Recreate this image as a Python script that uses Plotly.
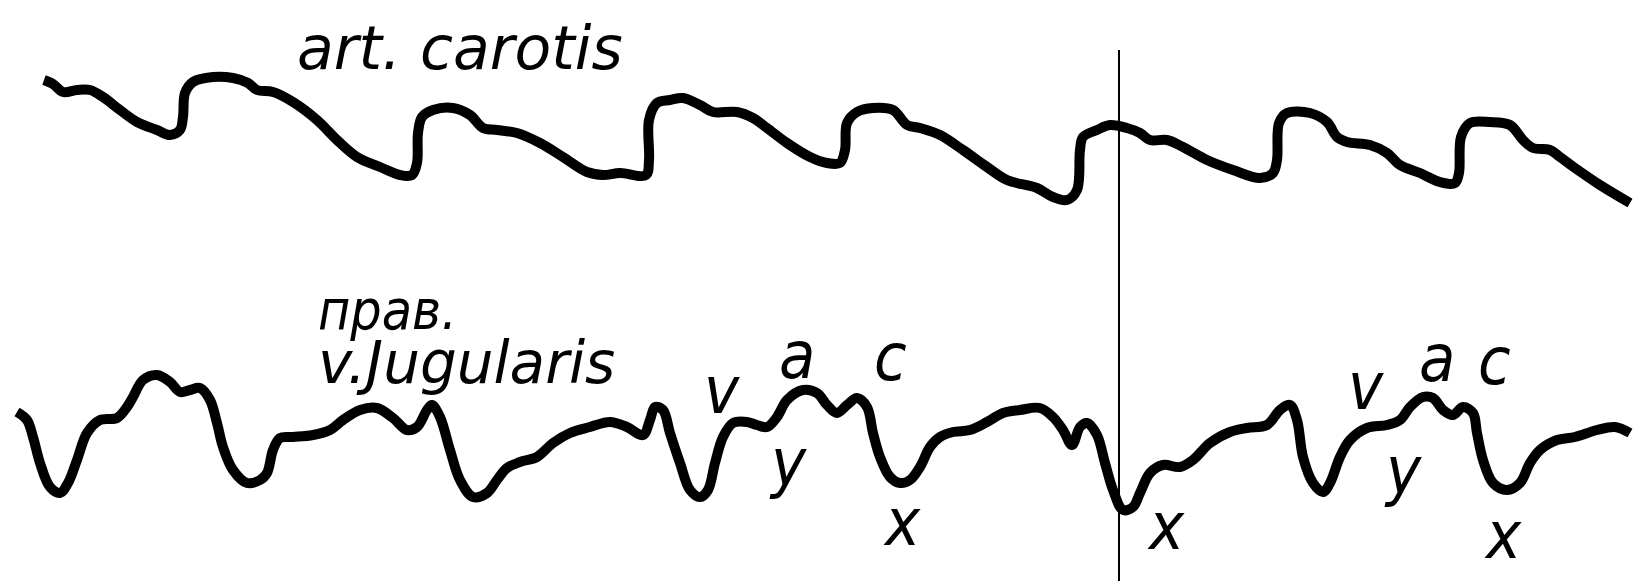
import plotly.graph_objects as go

# Carotid pulse tracing (time, pen deflection)
carotid_t = [44, 53, 63, 77, 90, 103, 120, 137, 157, 170, 180, 183, 185, 193, 213, 233, 248, 257, 273, 293,
             317, 337, 357, 380, 400, 412, 417, 418, 422, 433, 453, 470, 483, 497, 517,
             540, 563, 587, 603, 620, 646, 649, 649, 657, 670, 683, 700, 713, 737, 753, 767, 787, 810, 827,
             840, 845, 847, 857, 873, 893, 907, 920, 940, 963, 987, 1007, 1037,
             1053, 1067, 1077, 1080, 1083, 1097, 1110, 1127, 1140, 1150, 1167, 1183, 1207, 1233, 1260, 1273,
             1277, 1279, 1287, 1310, 1327, 1337, 1347, 1370, 1387, 1400, 1420, 1440, 1455, 1459, 1461, 1470,
             1490, 1510, 1523, 1533, 1550, 1560, 1575, 1600, 1630]
carotid_v = [80, 84, 92, 90, 90, 97, 110, 122, 130, 135, 130, 117, 93, 82, 77, 78, 83, 90, 92, 102,
             120, 140, 157, 167, 175, 175, 163, 133, 117, 110, 108, 115, 128, 130, 133,
             143, 157, 172, 175, 173, 175, 160, 120, 103, 100, 98, 105, 112, 112, 118, 128, 143, 157, 163,
             163, 150, 123, 112, 108, 110, 125, 128, 135, 150, 167, 180, 188,
             197, 200, 190, 150, 137, 130, 125, 128, 133, 140, 140, 147, 160, 170, 178, 173,
             160, 123, 113, 113, 122, 137, 142, 145, 153, 165, 173, 182, 183, 173, 137, 123,
             122, 125, 140, 148, 150, 157, 168, 185, 203]

# Right jugular venous tracing (time, pen deflection)
jugular_t = [17, 27, 33, 40, 50, 60, 68, 77, 87, 100, 117, 127, 133, 143, 157, 170, 180, 190, 200, 210,
             217, 223, 233, 247, 260, 267, 273, 280, 293, 313, 330, 343, 360, 377, 393, 407, 417, 427, 432,
             440, 450, 460, 473, 487, 497, 507, 520,
             537, 553, 570, 590, 610, 627, 643, 650, 655, 663, 670, 680, 690, 700, 708, 715, 723, 733, 747,
             757, 767, 777, 787, 803, 817, 827, 837, 847, 857, 867, 873, 880, 890, 900, 910, 920, 930, 940,
             953, 970, 987, 1003, 1020, 1040,
             1053, 1063, 1072, 1080, 1087, 1097, 1105, 1113, 1123, 1133, 1140, 1150, 1163, 1180, 1193, 1210,
             1230, 1247, 1267, 1280, 1290, 1297, 1303, 1313, 1323, 1330, 1340, 1350, 1367, 1387, 1400, 1410,
             1423, 1433, 1443, 1453, 1463, 1473, 1477, 1483, 1493, 1507, 1520, 1530, 1540, 1557, 1575, 1597,
             1615, 1630]
jugular_v = [412, 420, 437, 463, 487, 493, 483, 460, 433, 420, 418, 407, 397, 380, 375, 382, 392, 390, 388, 400,
             423, 447, 470, 483, 480, 473, 450, 438, 437, 435, 430, 420, 410, 408, 418, 430, 427, 410, 405,
             417, 450, 480, 497, 493, 480, 468, 462,
             457, 443, 433, 427, 422, 427, 435, 420, 407, 410, 433, 463, 490, 497, 490, 463, 437, 423, 422,
             425, 427, 417, 400, 390, 393, 405, 413, 405, 398, 407, 433, 457, 477, 483, 480, 467, 447, 437,
             432, 430, 422, 413, 410, 408,
             417, 430, 445, 427, 423, 435, 463, 490, 510, 507, 493, 473, 465, 467, 460, 443,
             432, 428, 425, 410, 405, 420, 457, 483, 492, 483, 457, 440, 428, 425, 420, 407,
             397, 398, 410, 415, 407, 413, 433, 460, 483, 490, 483, 463, 450, 440, 437, 430,
             427, 433]

# Time marker
marker_t = 1119

# Trace titles: text, anchor point, font size
trace_titles = ["art. carotis", "прав.", "v.Jugularis"]
title_pos = [(460, 48, "center"), (316, 310, "left"), (316, 363, "left")]
title_sizes = [60, 55, 58]

# Wave labels of the venous pulse
wave_labels = ["v", "a", "c", "y", "x", "x", "v", "a", "c", "y", "x"]
wave_pos = [(722, 390), (797, 355), (890, 357), (788, 462), (902, 522),
            (1166, 526), (1366, 386), (1437, 358), (1494, 361), (1403, 470), (1503, 535)]

fig = go.Figure()

for t, v in ((carotid_t, carotid_v), (jugular_t, jugular_v)):
    fig.add_trace(go.Scatter(
        x=t, y=v, mode="lines",
        line=dict(color="#000000", width=10, shape="spline", smoothing=1.0),
        hoverinfo="skip", showlegend=False,
    ))

fig.add_shape(type="line", x0=marker_t, x1=marker_t, y0=50, y1=581,
              xref="x", yref="y", line=dict(color="#000000", width=2))

title_families = ["DejaVu Sans, sans-serif",
                  "DejaVu Sans Condensed, DejaVu Sans, sans-serif",
                  "DejaVu Sans, sans-serif"]
for text, (x, y, anchor), size, fam in zip(trace_titles, title_pos, title_sizes, title_families):
    fig.add_annotation(x=x, y=y, text=text, showarrow=False, xref="x", yref="y",
                       xanchor=anchor, yanchor="middle",
                       font=dict(family=fam, size=size, color="#000000", style="italic"))

label_font = dict(family="Liberation Sans Narrow, DejaVu Sans Condensed, sans-serif",
                  size=66, color="#000000", style="italic")
for text, (x, y) in zip(wave_labels, wave_pos):
    fig.add_annotation(x=x, y=y, text=text, showarrow=False, xref="x", yref="y",
                       xanchor="center", yanchor="middle", font=label_font)

fig.update_layout(
    width=1637, height=581,
    margin=dict(l=0, r=0, t=0, b=0),
    paper_bgcolor="#ffffff", plot_bgcolor="#ffffff",
    xaxis=dict(range=[0, 1637], visible=False, fixedrange=True),
    yaxis=dict(range=[581, 0], visible=False, fixedrange=True),
    showlegend=False,
)

fig.write_html("out.html", config={"displayModeBar": False},
               post_script="document.body.style.margin='0';")
